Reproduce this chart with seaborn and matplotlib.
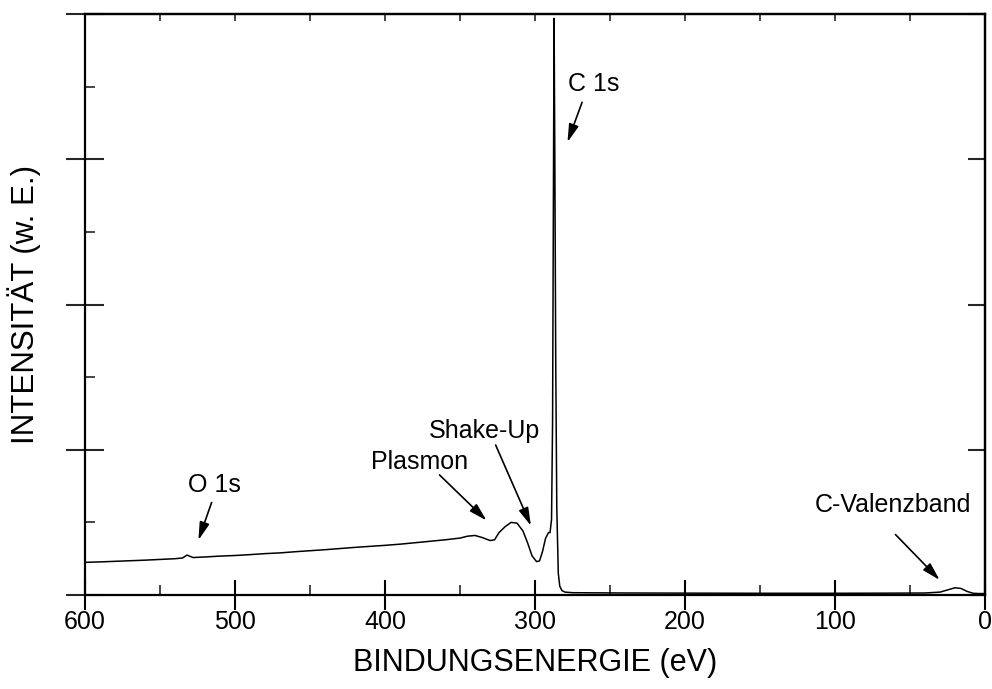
import numpy as np
import pandas as pd
import matplotlib
matplotlib.use("Agg")
import matplotlib.pyplot as plt
import seaborn as sns

# XPS-Übersichtsspektrum (Intensität in w. E., 0..4)
energie = [600, 590, 580, 570, 560, 550, 540, 535, 532, 528, 520, 510, 500, 490,
           480, 470, 460, 450, 440, 430, 420, 410, 400, 390, 380, 370, 360, 350,
           345, 340, 335, 330, 327, 324, 320, 316, 312, 308, 305, 302, 299, 297,
           295, 293, 291, 290, 289, 288.3, 287.8, 287.3, 286.8, 286.2, 285.5, 284.5,
           283.5, 282, 280, 275, 260, 240, 200, 150, 100, 60, 40, 30, 25, 20, 16,
           12, 8, 4, 0]
intensitaet = [0.225, 0.228, 0.232, 0.236, 0.24, 0.245, 0.25, 0.255, 0.275, 0.258,
               0.262, 0.268, 0.272, 0.278, 0.285, 0.29, 0.298, 0.305, 0.312, 0.32,
               0.328, 0.335, 0.342, 0.35, 0.36, 0.37, 0.38, 0.392, 0.405, 0.41,
               0.395, 0.375, 0.38, 0.43, 0.47, 0.5, 0.495, 0.44, 0.36, 0.27, 0.23,
               0.235, 0.3, 0.39, 0.43, 0.43, 0.52, 1.2, 2.6, 3.97, 3.0, 1.6, 0.6,
               0.15, 0.06, 0.03, 0.02, 0.016, 0.015, 0.014, 0.013, 0.012, 0.012,
               0.013, 0.014, 0.02, 0.035, 0.05, 0.045, 0.025, 0.012, 0.01, 0.01]

df = pd.DataFrame({"energie": energie, "intensitaet": intensitaet})

# Beschriftungen mit Pfeilen: Text, Textposition (Grundlinie), Ausrichtung, Pfeilanfang, Pfeilende
labels = ["C 1s", "O 1s", "Plasmon", "Shake-Up", "C-Valenzband"]
text_pos = [(261, 3.47), (514, 0.71), (377, 0.87), (334, 1.083), (9, 0.57)]
text_ha = ["center", "center", "center", "center", "right"]
arrow_start = [(268, 3.41), (515, 0.655), (365, 0.84), (327, 1.05), (61, 0.43)]
arrow_end = [(279, 3.10), (525, 0.36), (331, 0.50), (302, 0.46), (29, 0.09)]

sns.set_theme(style="ticks")
plt.rcParams["font.family"] = ["Liberation Sans", "DejaVu Sans"]
plt.rcParams["text.color"] = "black"
plt.rcParams["axes.labelcolor"] = "black"

fig = plt.figure(figsize=(9.92, 6.89), dpi=100)
ax = fig.add_axes([0.0857, 0.1364, 0.9073, 0.8433])

sns.lineplot(data=df, x="energie", y="intensitaet", ax=ax, sort=False,
             estimator=None, color="black", linewidth=1.1)

ax.set_xlim(600, 0)
ax.set_ylim(0, 4)
ax.set_xticks(np.arange(0, 601, 100))
ax.set_xticks(np.arange(50, 600, 100), minor=True)
ax.set_yticks(np.arange(0, 5, 1))
ax.set_yticks(np.arange(0.5, 4, 1), minor=True)
ax.set_yticklabels([])
ax.tick_params(axis="x", which="major", direction="inout", length=22, width=1.5,
               labelsize=18, pad=0, colors="black", top=False)
ax.tick_params(axis="x", which="minor", direction="in", length=7, width=1.2, top=False)
ax.tick_params(axis="y", which="major", direction="inout", length=28, width=1.5, right=False)
ax.tick_params(axis="y", which="minor", direction="in", length=7, width=1.2, right=False)

top = ax.secondary_xaxis("top")
top.set_xticks(np.arange(0, 601, 50))
top.set_xticklabels([])
top.tick_params(direction="in", length=5, width=1.2)
right = ax.secondary_yaxis("right")
right.set_yticks(np.arange(0, 5, 1))
right.set_yticklabels([])
right.tick_params(direction="in", length=12, width=1.5)

for sp in list(ax.spines.values()) + list(top.spines.values()) + list(right.spines.values()):
    sp.set_linewidth(1.6)
    sp.set_color("black")

ax.set_xlabel("BINDUNGSENERGIE (eV)", fontsize=22, labelpad=10, color="black")
ax.set_ylabel("INTENSITÄT (w. E.)", fontsize=22.5, labelpad=14, color="black")

for lab, tp, ha, a0, a1 in zip(labels, text_pos, text_ha, arrow_start, arrow_end):
    ax.text(tp[0], tp[1], lab, fontsize=18, ha=ha, va="baseline", color="black")
    ax.annotate("", xy=a1, xytext=a0,
                arrowprops=dict(arrowstyle="-|>,head_length=0.9,head_width=0.25",
                                color="black", lw=1.2))

fig.savefig("out.png", dpi=100)
